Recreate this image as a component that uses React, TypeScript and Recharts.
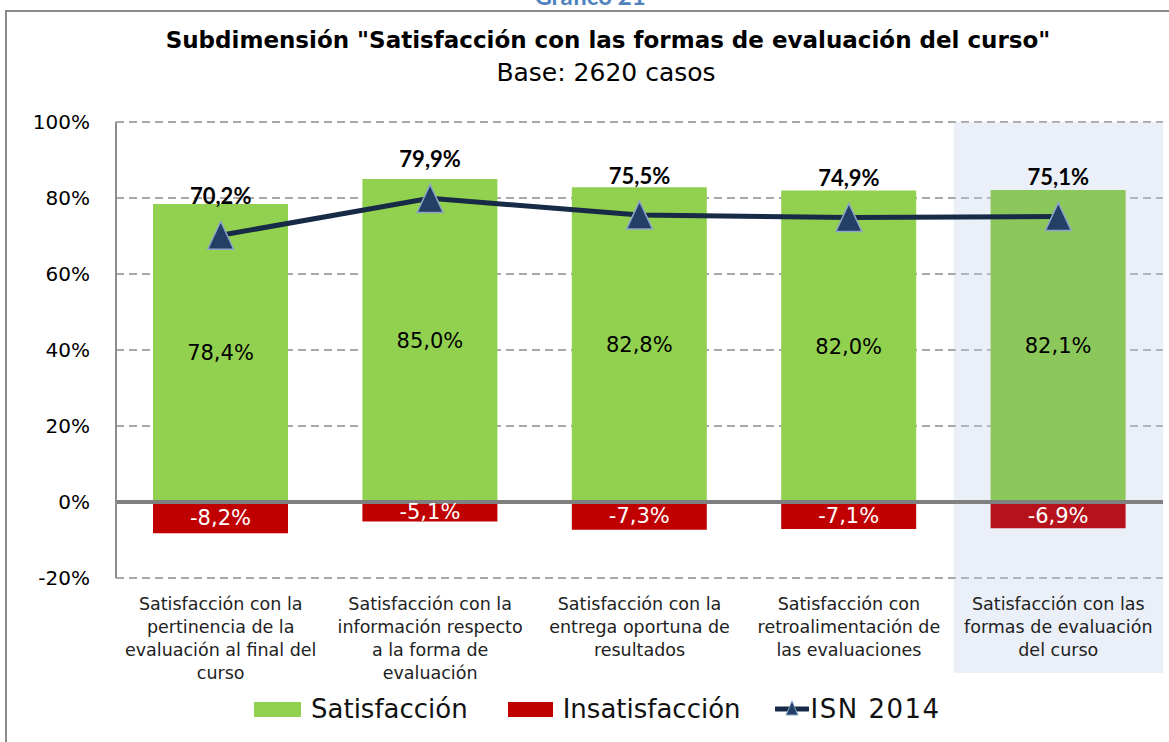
import React from 'react';
import {
  ComposedChart,
  Bar,
  Line,
  XAxis,
  YAxis,
  CartesianGrid,
  ReferenceLine,
  ReferenceArea,
  LabelList,
  Cell
} from 'recharts';

const categories = [
  'Satisfacción con la\npertinencia de la\nevaluación al final del\ncurso',
  'Satisfacción con la\ninformación respecto\na la forma de\nevaluación',
  'Satisfacción con la\nentrega oportuna de\nresultados',
  'Satisfacción con\nretroalimentación de\nlas evaluaciones',
  'Satisfacción con las\nformas de evaluación\ndel curso'
];
const satisfaccion = [78.4, 85.0, 82.8, 82.0, 82.1];
const insatisfaccion = [-8.2, -5.1, -7.3, -7.1, -6.9];
const isn2014 = [70.2, 79.9, 75.5, 74.9, 75.1];
const yTicks = [-20, 0, 20, 40, 60, 80, 100];
const highlighted = categories[4];

const GOTHIC = '"DejaVu Sans", sans-serif';
const CALIBRI = 'Lato, "Open Sans", sans-serif';

const chartData = categories.map((name, i) => ({
  name,
  sat: satisfaccion[i],
  insat: insatisfaccion[i],
  isn: isn2014[i]
}));

const fmt = (v: number) => v.toFixed(1).replace('.', ',') + '%';

const TriangleDot = (props: any) => {
  const { cx, cy } = props;
  if (cx == null || cy == null) return null;
  return (
    <polygon
      key={`tri-${props.index}`}
      points={`${cx},${cy - 14} ${cx - 13},${cy + 14} ${cx + 13},${cy + 14}`}
      fill="#243f66"
      stroke="#8fa6c8"
      strokeWidth={1.5}
    />
  );
};

const IsnLabel = (props: any) => {
  const x = props.x ?? props.viewBox?.x;
  const y = props.y ?? props.viewBox?.y;
  if (x == null || y == null) return null;
  return (
    <text
      x={x}
      y={y - 40}
      textAnchor="middle"
      dominantBaseline="central"
      fontFamily={CALIBRI}
      fontWeight="bold"
      fontSize={22}
      fill="#000"
    >
      {fmt(Number(props.value))}
    </text>
  );
};

const CategoryTick = (props: any) => {
  const { x, y, payload } = props;
  const lines = String(payload.value).split('\n');
  return (
    <text
      x={x}
      y={y + 18}
      textAnchor="middle"
      dominantBaseline="central"
      fontFamily={GOTHIC}
      fontSize={17.5}
      fill="#222"
    >
      {lines.map((l, i) => (
        <tspan key={i} x={x} dy={i === 0 ? 0 : 23}>
          {l}
        </tspan>
      ))}
    </text>
  );
};

const HighlightBand = (props: any) => (
  <rect
    x={props.x}
    y={props.y}
    width={props.width}
    height={props.height + 95}
    fill="#c6d5ec"
    fillOpacity={0.35}
  />
);

const legendText: React.CSSProperties = {
  fontFamily: GOTHIC,
  fontSize: 26,
  color: '#111',
  lineHeight: '30px'
};

export default function App() {
  return (
    <div
      style={{
        position: 'absolute',
        left: 0,
        top: 0,
        width: 1169,
        height: 742,
        overflow: 'hidden',
        background: '#fff'
      }}
    >
      <div
        style={{
          position: 'absolute',
          left: 5,
          top: 10,
          width: 1200,
          height: 800,
          borderTop: '2px solid #8a8a8a',
          borderLeft: '2px solid #8a8a8a'
        }}
      />
      <div
        style={{
          position: 'absolute',
          left: 0,
          width: 1180,
          top: -19,
          textAlign: 'center',
          fontFamily: CALIBRI,
          fontWeight: 'bold',
          fontSize: 24,
          color: '#4f81bd'
        }}
      >
        Gráfico 21
      </div>
      <div
        style={{
          position: 'absolute',
          left: 0,
          width: 1216,
          top: 25,
          textAlign: 'center',
          fontFamily: GOTHIC,
          fontWeight: 'bold',
          fontSize: 23,
          color: '#000',
          lineHeight: '30px'
        }}
      >
        Subdimensión "Satisfacción con las formas de evaluación del curso"
      </div>
      <div
        style={{
          position: 'absolute',
          left: 0,
          width: 1212,
          top: 58,
          textAlign: 'center',
          fontFamily: GOTHIC,
          fontSize: 25,
          color: '#000',
          lineHeight: '30px'
        }}
      >
        Base: 2620 casos
      </div>

      <div style={{ position: 'absolute', left: 0, top: 0 }}>
        <ComposedChart
          width={1169}
          height={742}
          data={chartData}
          stackOffset="sign"
          margin={{ top: 122, right: 6, bottom: 64, left: 0 }}
        >
          <CartesianGrid
            horizontal
            vertical={false}
            stroke="#8c8c8c"
            strokeWidth={1.5}
            strokeDasharray="8 5"
          />
          <ReferenceArea
            x1={highlighted}
            x2={highlighted}
            y1={100}
            y2={-20}
            ifOverflow="visible"
            shape={<HighlightBand />}
          />
          <XAxis
            dataKey="name"
            axisLine={false}
            tickLine={false}
            interval={0}
            height={100}
            tick={<CategoryTick />}
          />
          <YAxis
            width={116}
            domain={[-20, 100]}
            ticks={yTicks}
            tickFormatter={(v: number) => `${v}%`}
            tick={{ fontFamily: GOTHIC, fontSize: 20, fill: '#000' }}
            axisLine={{ stroke: '#8c8c8c', strokeWidth: 2 }}
            tickLine={false}
            tickSize={24}
            tickMargin={2}
            interval={0}
          />
          <Bar dataKey="sat" stackId="s" barSize={135} fill="#92d050" isAnimationActive={false}>
            {chartData.map((d, i) => (
              <Cell key={d.name} fill={i === 4 ? '#8bc75a' : '#92d050'} />
            ))}
            <LabelList
              dataKey="sat"
              position="center"
              formatter={(v: any) => fmt(Number(v))}
              fill="#000"
              fontFamily={GOTHIC}
              fontSize={21}
            />
          </Bar>
          <Bar dataKey="insat" stackId="s" barSize={135} fill="#c00000" isAnimationActive={false}>
            {chartData.map((d, i) => (
              <Cell key={d.name} fill={i === 4 ? '#b5121b' : '#c00000'} />
            ))}
            <LabelList
              dataKey="insat"
              position="center"
              formatter={(v: any) => fmt(Number(v))}
              fill="#fff"
              fontFamily={GOTHIC}
              fontSize={21}
            />
          </Bar>
          <ReferenceLine y={0} stroke="#808080" strokeWidth={4} />
          <Line
            dataKey="isn"
            type="linear"
            stroke="#172a46"
            strokeWidth={5}
            dot={<TriangleDot />}
            activeDot={false}
            isAnimationActive={false}
          >
            <LabelList dataKey="isn" content={<IsnLabel />} />
          </Line>
        </ComposedChart>
      </div>

      <div
        style={{
          position: 'absolute',
          left: 254,
          top: 694,
          display: 'flex',
          alignItems: 'center'
        }}
      >
        <div style={{ width: 47, height: 15, background: '#92d050', marginRight: 10 }} />
        <span style={legendText}>Satisfacción</span>
        <div style={{ width: 45, height: 15, background: '#c00000', marginLeft: 40, marginRight: 10 }} />
        <span style={legendText}>Insatisfacción</span>
        <svg width={34} height={24} style={{ marginLeft: 34, marginRight: 2 }}>
          <line x1={1} y1={12} x2={33} y2={12} stroke="#172a46" strokeWidth={5} strokeLinecap="round" />
          <polygon points="17,4 11,18 23,18" fill="#243f66" stroke="#8fa6c8" strokeWidth={1} />
        </svg>
        <span style={{ ...legendText, letterSpacing: 1.5 }}>ISN 2014</span>
      </div>
    </div>
  );
}
